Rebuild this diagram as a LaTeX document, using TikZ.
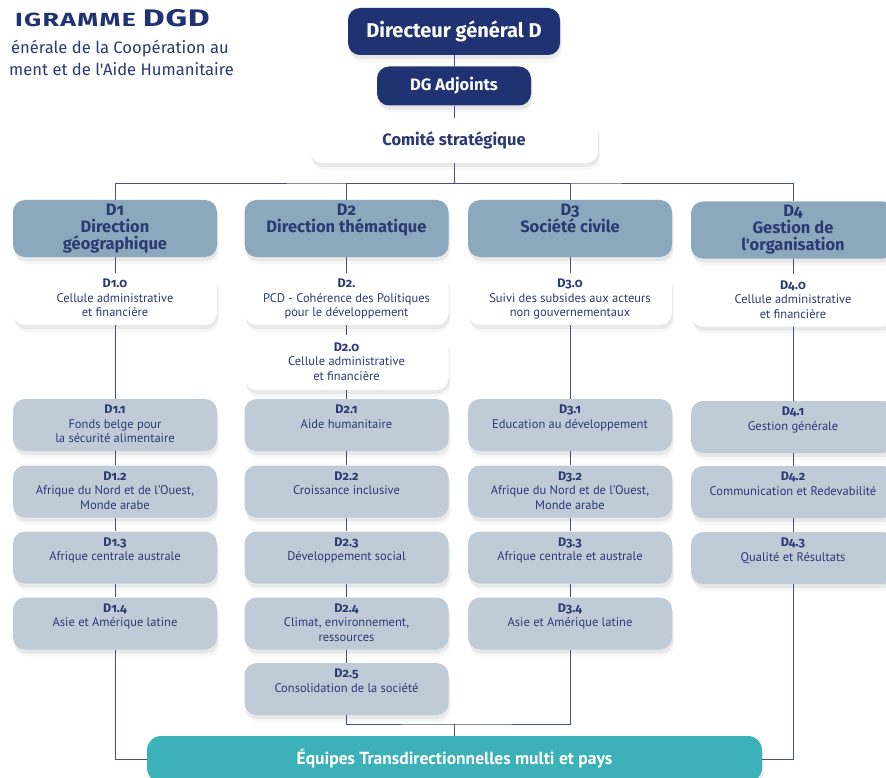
\documentclass[tikz,border=0pt]{standalone}
\usepackage{fontspec}
\setmainfont{PT Sans}
\newfontfamily\labfont{Fira Sans}[Numbers=OldStyle]
\newfontfamily\titlefont{Fira Sans}[FakeStretch=1.4,LetterSpace=3]
\usetikzlibrary{shadows}
\definecolor{dgdnavy}{HTML}{1F3272}
\definecolor{dgdink}{HTML}{2B3A72}
\definecolor{dgdsteel}{HTML}{8CA8BC}
\definecolor{dgdmist}{HTML}{BFCCD8}
\definecolor{dgdteal}{HTML}{3DB1B8}
% text of a box, set from the top
\newcommand{\headtext}[2]{\parbox[c][49pt][t]{200pt}{\centering\labfont\fontsize{16.5}{17}\selectfont\bfseries #1\\#2}}
\newcommand{\subtext}[2]{\parbox[c][40pt][t]{200pt}{\centering\fontsize{12.5}{14.5}\selectfont{\labfont\bfseries #1}\\#2}}
\begin{document}
\begin{tikzpicture}[x=1pt,y=-1pt,every node/.style={inner sep=0pt,text=dgdink,align=center}]
        \tikzset{edge/.style = {draw=dgdnavy!85,line width=0.8pt},
                 soft/.style = {drop shadow={shadow xshift=1pt,shadow yshift=-4pt,opacity=.12},
                                drop shadow={shadow xshift=2pt,shadow yshift=-7pt,opacity=.06}},
                 topbox/.style = {rounded corners=12pt,fill=dgdnavy,text=white,soft},
                 hdr/.style = {rounded corners=12pt,fill=dgdsteel,minimum width=204pt,minimum height=57pt,soft},
                 cell/.style = {rounded corners=12pt,fill=white,minimum width=204pt,minimum height=52pt,soft},
                 sub/.style = {cell,fill=dgdmist},
                 team/.style = {rounded corners=14pt,fill=dgdteal,text=white,minimum width=615pt,minimum height=46pt,
                                font=\bfseries\fontsize{17.5}{20}\selectfont,soft}}
        \fill[white] (0,0) rectangle (886,778);
        \useasboundingbox (0,0) rectangle (886,778);

        % title
        \node[anchor=base east,text=dgdnavy,font=\titlefont\bfseries] (title) at (210,27) {{\addfontfeatures{LetterSpace=7}\fontsize{19}{20}\selectfont IGRAMME}\hspace{7pt}{\fontsize{24}{26}\selectfont DGD}};
        \node[anchor=base east,font=\labfont\fontsize{16.6}{20}\selectfont] (sub1) at (229,54) {énérale de la Coopération au};
        \node[anchor=base east,font=\labfont\fontsize{16.6}{20}\selectfont] (sub2) at (234,76) {ment et de l'Aide Humanitaire};

        % top
        \node[topbox,minimum width=212pt,minimum height=47pt,font=\labfont\bfseries\fontsize{20}{22}\selectfont] (dg) at (454,31.5) {Directeur général D};
        \node[topbox,minimum width=154pt,minimum height=39pt,font=\labfont\bfseries\fontsize{16.5}{18}\selectfont] (adj) at (454,86) {DG Adjoints};
        \node[cell,minimum width=288pt,minimum height=45pt,font=\labfont\bfseries\fontsize{16.5}{18}\selectfont] (cs) at (454,140.5) {Comité stratégique};
        \coordinate (bar) at (454,183);

        % directions
        \node[hdr] (d1) at (115,228.5) {\headtext{D1}{Direction\\géographique}};
        \node[hdr] (d2) at (346.5,228.5) {\headtext{D2}{Direction thématique}};
        \node[hdr] (d3) at (570,228.5) {\headtext{D3}{Société civile}};
        \node[hdr] (d4) at (793,230) {\headtext{D4}{Gestion de\\l'organisation}};

        % D1
        \node[cell] (d10) at (115,299) {\subtext{D1.0}{Cellule administrative\\et financière}};
        \node[sub] (d11) at (115,425) {\subtext{D1.1}{Fonds belge pour\\la sécurité alimentaire}};
        \node[sub] (d12) at (115,491.5) {\subtext{D1.2}{Afrique du Nord et de l'Ouest,\\Monde arabe}};
        \node[sub] (d13) at (115,557.5) {\subtext{D1.3}{Afrique centrale australe}};
        \node[sub] (d14) at (115,623.5) {\subtext{D1.4}{Asie et Amérique latine}};

        % D2
        \node[cell] (d2p) at (346.5,299) {\subtext{D2.}{PCD - Cohérence des Politiques\\pour le développement}};
        \node[cell,minimum height=55pt] (d20) at (346.5,362.5) {\subtext{D2.0}{Cellule administrative\\et financière}};
        \node[sub] (d21) at (346.5,425) {\subtext{D2.1}{Aide humanitaire}};
        \node[sub] (d22) at (346.5,491.5) {\subtext{D2.2}{Croissance inclusive}};
        \node[sub] (d23) at (346.5,557.5) {\subtext{D2.3}{Développement social}};
        \node[sub] (d24) at (346.5,623.5) {\subtext{D2.4}{Climat, environnement,\\ressources}};
        \node[sub] (d25) at (346.5,689) {\subtext{D2.5}{Consolidation de la société}};

        % D3
        \node[cell] (d30) at (570,299) {\subtext{D3.0}{Suivi des subsides aux acteurs\\non gouvernementaux}};
        \node[sub] (d31) at (570,425) {\subtext{D3.1}{Education au développement}};
        \node[sub] (d32) at (570,491.5) {\subtext{D3.2}{Afrique du Nord et de l'Ouest,\\Monde arabe}};
        \node[sub] (d33) at (570,557.5) {\subtext{D3.3}{Afrique centrale et australe}};
        \node[sub] (d34) at (570,623.5) {\subtext{D3.4}{Asie et Amérique latine}};

        % D4
        \node[cell] (d40) at (793,300.5) {\subtext{D4.0}{Cellule administrative\\et financière}};
        \node[sub] (d41) at (793,427) {\subtext{D4.1}{Gestion générale}};
        \node[sub] (d42) at (793,492) {\subtext{D4.2}{Communication et Redevabilité}};
        \node[sub] (d43) at (793,558) {\subtext{D4.3}{Qualité et Résultats}};

        % teams
        \node[team] (eq) at (454.5,759) {Équipes Transdirectionnelles multi et pays};
        \coordinate (j) at (454.5,724);

        \draw[edge] (dg) -- (adj) -- (cs) -- (bar);
        \draw[edge] (d1.north) |- (bar) -| (d4.north);
        \draw[edge] (d2.north) |- (bar);
        \draw[edge] (d3.north) |- (bar);

        \draw[edge] (d1) -- (d10) -- (d11) -- (d12) -- (d13) -- (d14);
        \draw[edge] (d2) -- (d2p) -- (d20) -- (d21) -- (d22) -- (d23) -- (d24) -- (d25);
        \draw[edge] (d3) -- (d30) -- (d31) -- (d32) -- (d33) -- (d34);
        \draw[edge] (d4) -- (d40) -- (d41) -- (d42) -- (d43);

        \draw[edge] (d14.south) |- (eq.west);
        \draw[edge] (d43.south) |- (eq.east);
        \draw[edge] (d25.south) |- (j) -| (d34.south);
        \draw[edge] (j) -- (eq.north);
\end{tikzpicture}
\end{document}
